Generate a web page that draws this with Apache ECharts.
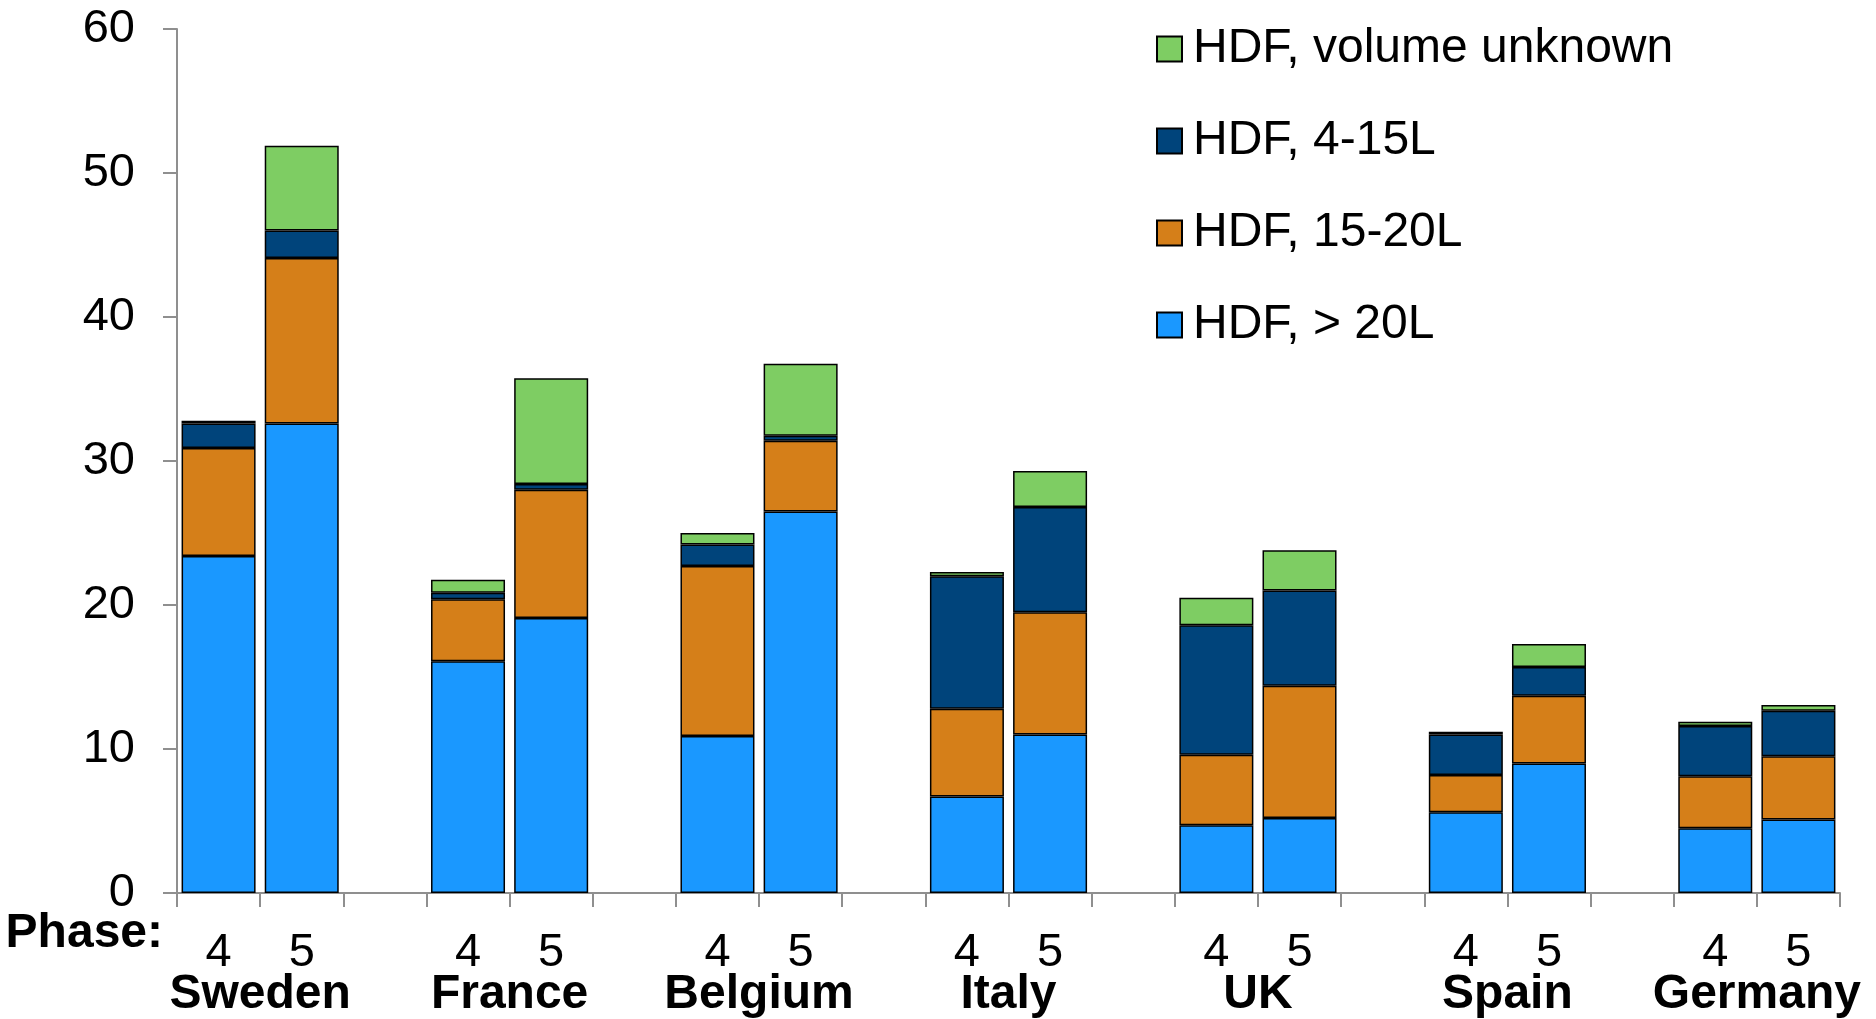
<!DOCTYPE html>
<html>
<head>
<meta charset="utf-8">
<title>HDF by country and phase</title>
<script src="https://cdn.jsdelivr.net/npm/echarts@6/dist/echarts.min.js"></script>
<style>
  html, body { margin: 0; padding: 0; background: #fff; }
  #chart { width: 1876px; height: 1019px; }
</style>
</head>
<body>
<div id="chart"></div>
<script>
// Countries and phases, bars ordered Sweden 4, Sweden 5, France 4, ...
const countries = ['Sweden', 'France', 'Belgium', 'Italy', 'UK', 'Spain', 'Germany'];
const phases = ['4', '5'];

// Share of patients (%) per HDF category, one value per country/phase bar
const hdfOver20 = [23.4, 32.6, 16.1, 19.1, 10.9, 26.5, 6.7, 11.0, 4.7, 5.2, 5.6, 9.0, 4.5, 5.1];
const hdf15to20 = [7.5, 11.5, 4.3, 8.9, 11.8, 4.9, 6.1, 8.5, 4.9, 9.2, 2.6, 4.7, 3.6, 4.4];
const hdf4to15 = [1.7, 1.9, 0.45, 0.4, 1.5, 0.35, 9.2, 7.3, 9.0, 6.6, 2.8, 2.0, 3.5, 3.15];
const hdfUnknown = [0.2, 5.9, 0.9, 7.35, 0.8, 5.0, 0.3, 2.5, 1.9, 2.8, 0.2, 1.6, 0.3, 0.4];

const yTicks = { min: 0, max: 60, interval: 10 };

const seriesNames = ['HDF, > 20L', 'HDF, 15-20L', 'HDF, 4-15L', 'HDF, volume unknown'];
const seriesColors = ['#1A98FF', '#D57F19', '#00447B', '#7ECD63'];

// Slots on the category axis: two bars per country, an empty slot between countries
const slotLabels = [];
const slotIndexOfBar = [];
countries.forEach((c, ci) => {
  phases.forEach((p) => {
    slotIndexOfBar.push(slotLabels.length);
    slotLabels.push(p);
  });
  if (ci < countries.length - 1) slotLabels.push('');
});

function toSlots(values) {
  const out = slotLabels.map(() => null);
  values.forEach((v, i) => { out[slotIndexOfBar[i]] = v; });
  return out;
}

// Country names sit midway between the two bars of each group
const countryPositions = countries.map((c, ci) => ci * 3 + 0.5);

const font = 'Liberation Sans, Arial, sans-serif';
const axisGray = '#8f8f8f';

const chart = echarts.init(document.getElementById('chart'), null, { renderer: 'canvas' });

const dataSets = [hdfOver20, hdf15to20, hdf4to15, hdfUnknown];

chart.setOption({
  animation: false,
  backgroundColor: '#ffffff',
  textStyle: { fontFamily: font },
  title: {
    text: 'Phase:',
    right: 1713,
    top: 910,
    padding: 0,
    textStyle: { fontFamily: font, fontSize: 48, fontWeight: 'bold', color: '#000' }
  },
  legend: {
    orient: 'vertical',
    left: 1151,
    top: 20,
    itemWidth: 25,
    itemHeight: 25,
    itemGap: 44,
    icon: 'rect',
    data: ['HDF, volume unknown', 'HDF, 4-15L', 'HDF, 15-20L', 'HDF, > 20L'],
    textStyle: { fontFamily: font, fontSize: 48, lineHeight: 46, color: '#000', padding: [0, 0, 0, 6] }
  },
  grid: { left: 177, right: 36, top: 29, bottom: 126, containLabel: false },
  xAxis: [
    {
      type: 'category',
      data: slotLabels,
      boundaryGap: true,
      axisLine: { show: true, onZero: false, lineStyle: { color: axisGray, width: 2 } },
      axisTick: { show: true, interval: 0, length: 14, lineStyle: { color: axisGray, width: 2 } },
      axisLabel: { interval: 0, margin: 37, fontFamily: font, fontSize: 47, color: '#000' },
      splitLine: { show: false }
    },
    {
      type: 'value',
      min: -0.5,
      max: slotLabels.length - 0.5,
      position: 'bottom',
      axisLine: { show: false, onZero: false },
      axisTick: { show: false },
      splitLine: { show: false },
      axisLabel: {
        customValues: countryPositions,
        margin: 78,
        fontFamily: font,
        fontSize: 48,
        fontWeight: 'bold',
        color: '#000',
        formatter: (v) => {
          const i = countryPositions.findIndex((p) => Math.abs(p - v) < 1e-6);
          return i >= 0 ? countries[i] : '';
        }
      }
    }
  ],
  yAxis: {
    type: 'value',
    min: yTicks.min,
    max: yTicks.max,
    interval: yTicks.interval,
    axisLine: { show: true, onZero: false, lineStyle: { color: axisGray, width: 2 } },
    axisTick: { show: true, length: 14, lineStyle: { color: axisGray, width: 2 } },
    axisLabel: { margin: 42, fontFamily: font, fontSize: 47, color: '#000' },
    splitLine: { show: false }
  },
  series: seriesNames.map((name, i) => ({
    name,
    type: 'bar',
    stack: 'hdf',
    xAxisIndex: 0,
    barWidth: '89%',
    data: toSlots(dataSets[i]),
    itemStyle: { color: seriesColors[i], borderColor: '#000', borderWidth: 1.5 },
    emphasis: { disabled: true }
  }))
});
</script>
</body>
</html>
